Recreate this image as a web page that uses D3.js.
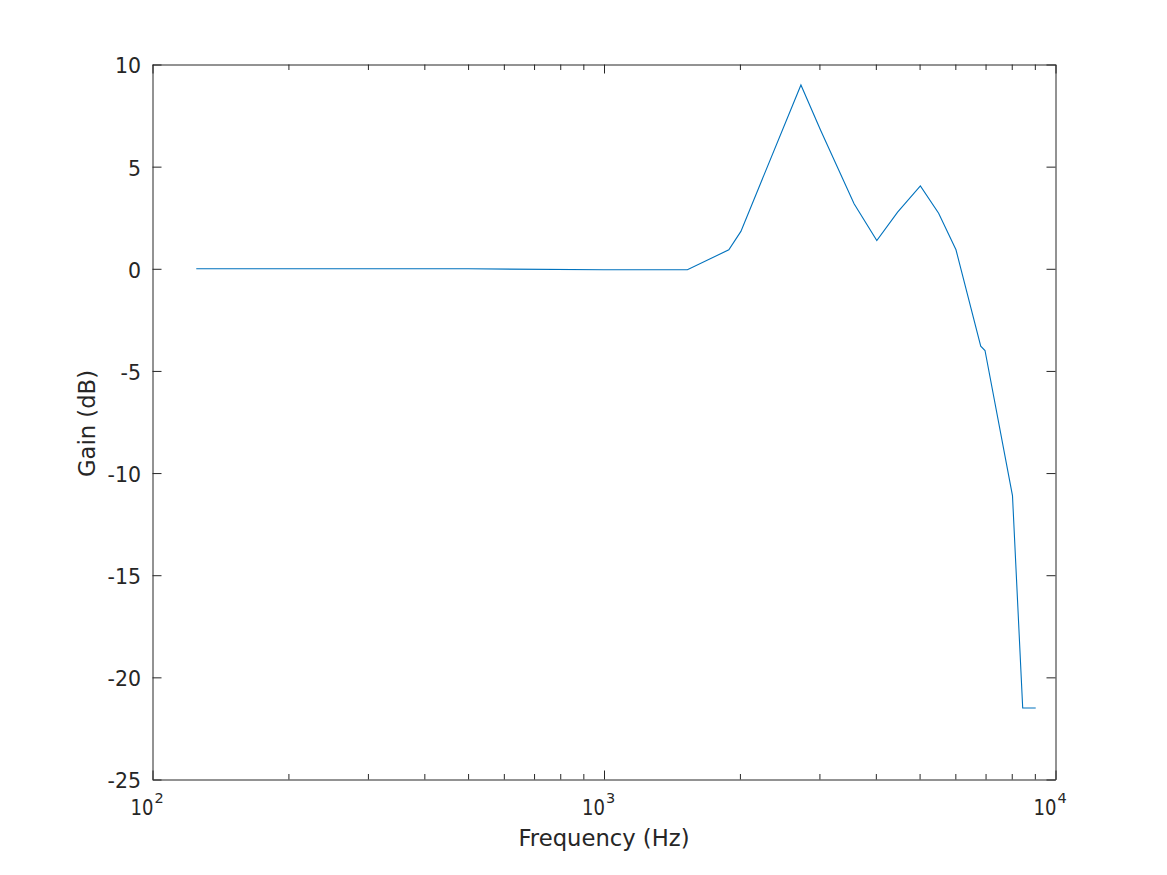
<!DOCTYPE html>
<html><head><meta charset="utf-8">
<script src="https://cdn.jsdelivr.net/npm/d3@7"></script>
<style>
html,body{margin:0;padding:0;background:#fff;}
svg{display:block;}
text{font-family:"DejaVu Sans",sans-serif;fill:#262626;}
</style></head>
<body>
<script>
const frequency = [125, 250, 500, 1000, 1530, 1890, 2010, 2730, 3020, 3580, 4020, 4470, 5020, 5510, 6020, 6830, 6980, 8030, 8460, 9040];
const gain = [0, 0, 0, -0.05, -0.05, 0.93, 1.83, 9.0, 6.77, 3.18, 1.38, 2.77, 4.06, 2.72, 0.93, -3.79, -4.0, -11.1, -21.5, -21.5];
const xMajorTicks = [100, 1000, 10000];
const xExponents = ["2", "3", "4"];
const xMinorTicks = [200,300,400,500,600,700,800,900,2000,3000,4000,5000,6000,7000,8000,9000];
const yTicks = [-25, -20, -15, -10, -5, 0, 5, 10];
const xLabel = "Frequency (Hz)";
const yLabel = "Gain (dB)";

const W = 1167, H = 875;
const L = 152.5, R = 1055.5, T = 64.5, B = 779.5;
const axisColor = "#262626";

const svg = d3.select("body").append("svg").attr("width", W).attr("height", H);

const x = d3.scaleLog().domain([100, 10000]).range([L, R]);
const y = d3.scaleLinear().domain([-25, 10]).range([B, T]);

function styleAxis(g){
  g.selectAll(".domain").attr("stroke", axisColor).attr("stroke-width", 1);
  g.selectAll(".tick line").attr("stroke", axisColor).attr("stroke-width", 1);
}

// bottom
const gB = svg.append("g").attr("transform", `translate(0,${B})`)
  .call(d3.axisBottom(x).tickValues(xMajorTicks).tickSizeInner(-9).tickSizeOuter(0).tickFormat(""));
styleAxis(gB);
const gBm = svg.append("g").attr("transform", `translate(0,${B})`)
  .call(d3.axisBottom(x).tickValues(xMinorTicks).tickSizeInner(-5.5).tickSizeOuter(0).tickFormat(""));
styleAxis(gBm); gBm.select(".domain").remove();
// top
const gT = svg.append("g").attr("transform", `translate(0,${T})`)
  .call(d3.axisTop(x).tickValues(xMajorTicks).tickSizeInner(-9).tickSizeOuter(0).tickFormat(""));
styleAxis(gT);
const gTm = svg.append("g").attr("transform", `translate(0,${T})`)
  .call(d3.axisTop(x).tickValues(xMinorTicks).tickSizeInner(-5.5).tickSizeOuter(0).tickFormat(""));
styleAxis(gTm); gTm.select(".domain").remove();
// left
const gL = svg.append("g").attr("transform", `translate(${L},0)`)
  .call(d3.axisLeft(y).tickValues(yTicks).tickSizeInner(-9).tickSizeOuter(0).tickFormat(d3.format("d")).tickPadding(11.5));
styleAxis(gL);
gL.selectAll(".tick text").attr("font-size", 20.5).attr("fill", axisColor).attr("dy", "0.41em")
  .attr("font-family", "DejaVu Sans").text(d => d < 0 ? "-" + Math.abs(d) : d);
// right
const gR = svg.append("g").attr("transform", `translate(${R},0)`)
  .call(d3.axisRight(y).tickValues(yTicks).tickSizeInner(-9).tickSizeOuter(0).tickFormat(""));
styleAxis(gR);

// x tick labels 10^n
const xl = svg.append("g").selectAll("g").data(xMajorTicks).join("g")
  .attr("transform", d => `translate(${x(d)},815)`);
xl.append("text").attr("transform", "scale(0.88,1)").attr("x", 1 / 0.88)
  .attr("text-anchor", "end").attr("font-size", 20.5).text("10");
xl.append("text").attr("transform", "translate(2,-12)")
  .attr("text-anchor", "start").attr("font-size", 14.5).text((d, i) => xExponents[i]);

// axis labels
svg.append("text").attr("x", (L + R) / 2).attr("y", 846).attr("text-anchor", "middle")
  .attr("font-size", 22.7).text(xLabel);
svg.append("text").attr("transform", `translate(95,${(T + B) / 2 + 1.5}) rotate(-90)`)
  .attr("text-anchor", "middle").attr("font-size", 22.7).text(yLabel);

// line
const line = d3.line().x((d, i) => x(frequency[i])).y((d, i) => y(gain[i]));
svg.append("path").datum(gain).attr("d", line).attr("fill", "none")
  .attr("stroke", "#0072BD").attr("stroke-width", 1.1).attr("stroke-linejoin", "miter");
</script>
</body></html>
